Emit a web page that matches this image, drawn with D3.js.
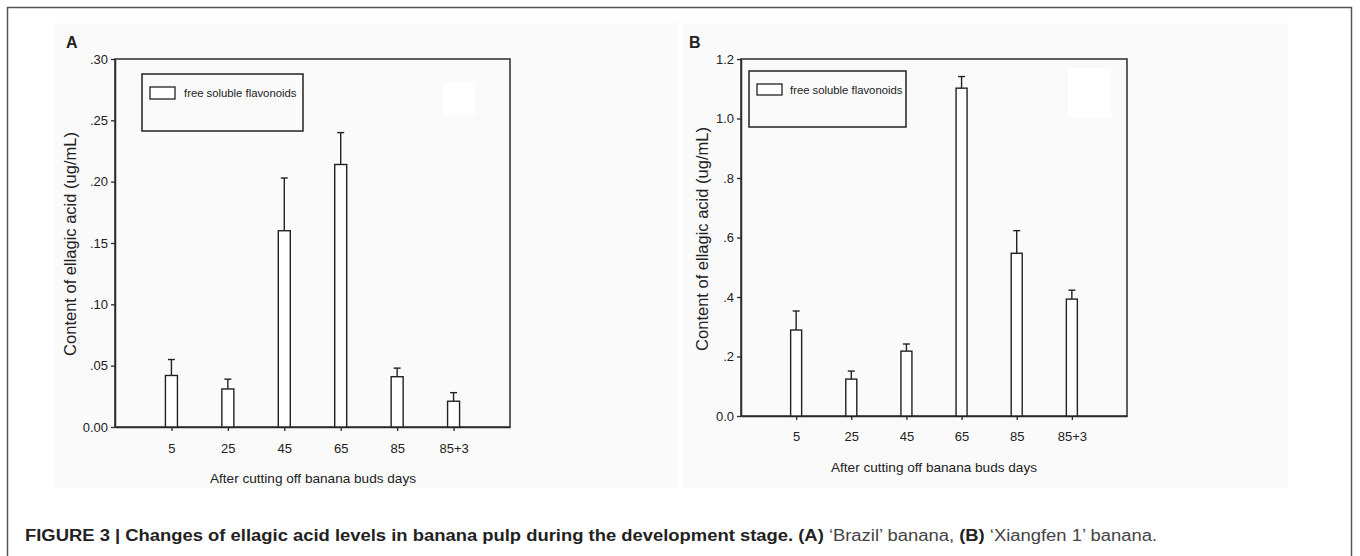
<!DOCTYPE html>
<html>
<head>
<meta charset="utf-8">
<script src="https://cdn.jsdelivr.net/npm/d3@7"></script>
<style>
  body { margin: 0; background: #fff; }
  svg { display: block; }
  text { font-family: "Liberation Sans", Arial, sans-serif; fill: #222; }
</style>
</head>
<body>
<svg id="figure" width="1360" height="556"></svg>
<script>
// days after cutting off the banana buds
const days = ["5", "25", "45", "65", "85", "85+3"];

// (A) 'Brazil' banana, ellagic acid (ug/mL)
const brazilMeans = [0.042, 0.031, 0.160, 0.214, 0.041, 0.021];
const brazilErrors = [0.013, 0.008, 0.043, 0.026, 0.007, 0.007];
const brazilTicks = [0, 0.05, 0.10, 0.15, 0.20, 0.25, 0.30];

// (B) 'Xiangfen 1' banana
const xiangfenMeans = [0.289, 0.124, 0.218, 1.102, 0.547, 0.393];
const xiangfenErrors = [0.064, 0.027, 0.024, 0.039, 0.076, 0.030];
const xiangfenTicks = [0, 0.2, 0.4, 0.6, 0.8, 1.0, 1.2];

const legendLabel = "free soluble flavonoids";
const xAxisTitle = "After cutting off banana buds days";
const yAxisTitle = "Content of ellagic acid (ug/mL)";

const axisColor = "#2b2b2b";

// SigmaPlot style labels: ".05" instead of "0.05", but keep the zero
const sigmaFormat = (digits) => (d) => {
  const s = d3.format(`.${digits}f`)(d);
  return d === 0 ? s : s.replace(/^0\./, ".");
};

const drawPanel = (svg, opts) => {
  const { plot } = opts;
  const g = svg.append("g");

  //panel background
  g.append("rect")
    .attr("x", opts.bg[0]).attr("y", opts.bg[1])
    .attr("width", opts.bg[2] - opts.bg[0]).attr("height", opts.bg[3] - opts.bg[1])
    .attr("fill", "#fafafa");
  //little white patch left in the scan
  g.append("rect")
    .attr("x", opts.patch[0]).attr("y", opts.patch[1])
    .attr("width", opts.patch[2] - opts.patch[0]).attr("height", opts.patch[3] - opts.patch[1])
    .attr("fill", "#ffffff");

  //panel letter
  g.append("text")
    .attr("x", opts.letterPos[0]).attr("y", opts.letterPos[1])
    .attr("font-size", 16).attr("font-weight", "bold").attr("fill", "#111")
    .text(opts.letter);

  //scales
  const xScale = d3.scalePoint().domain(days).range([plot.left, plot.right]).padding(1);
  const yScale = d3.scaleLinear().domain(d3.extent(opts.ticks)).range([plot.bottom, plot.top]);

  //frame (top and right sides)
  g.append("rect")
    .attr("x", plot.left).attr("y", plot.top)
    .attr("width", plot.right - plot.left).attr("height", plot.bottom - plot.top)
    .attr("fill", "none").attr("stroke", axisColor).attr("stroke-width", 1.5);

  //axes
  const yAxis = d3.axisLeft(yScale)
    .tickValues(opts.ticks)
    .tickFormat(opts.format)
    .tickSize(4).tickSizeOuter(0).tickPadding(3);
  const xAxis = d3.axisBottom(xScale)
    .tickSize(4).tickSizeOuter(0).tickPadding(opts.xTickPadding);

  const yG = g.append("g")
    .attr("transform", `translate(${plot.left},0)`)
    .call(yAxis);
  const xG = g.append("g")
    .attr("transform", `translate(0,${plot.bottom})`)
    .call(xAxis);
  [yG, xG].forEach((ax) => {
    ax.attr("font-family", null).attr("font-size", null);
    ax.select(".domain").attr("stroke", axisColor).attr("stroke-width", 1.5);
    ax.selectAll(".tick line").attr("stroke", axisColor).attr("stroke-width", 1.3);
    ax.selectAll(".tick text").attr("fill", "#2a2a2a").style("font-size", "13px");
  });

  //error bars (upper only)
  const rows = days.map((day, i) => ({ day, mean: opts.means[i], err: opts.errors[i] }));
  const errG = g.append("g").attr("stroke", "#222").attr("stroke-width", 1.4);
  errG.selectAll("line.stem")
    .data(rows).enter().append("line")
    .attr("class", "stem")
    .attr("x1", (d) => xScale(d.day)).attr("x2", (d) => xScale(d.day))
    .attr("y1", (d) => yScale(d.mean)).attr("y2", (d) => yScale(d.mean + d.err));
  errG.selectAll("line.cap")
    .data(rows).enter().append("line")
    .attr("class", "cap")
    .attr("x1", (d) => xScale(d.day) - 3.5).attr("x2", (d) => xScale(d.day) + 3.5)
    .attr("y1", (d) => yScale(d.mean + d.err)).attr("y2", (d) => yScale(d.mean + d.err));

  //bars
  g.append("g").selectAll("rect")
    .data(rows).enter().append("rect")
    .attr("x", (d) => xScale(d.day) - opts.barWidth / 2)
    .attr("y", (d) => yScale(d.mean))
    .attr("width", opts.barWidth)
    .attr("height", (d) => yScale(0) - yScale(d.mean))
    .attr("fill", "#fff")
    .attr("stroke", "#222")
    .attr("stroke-width", 1.4);

  //legend
  const lg = opts.legend;
  g.append("rect")
    .attr("x", lg.box[0]).attr("y", lg.box[1])
    .attr("width", lg.box[2] - lg.box[0]).attr("height", lg.box[3] - lg.box[1])
    .attr("fill", "none").attr("stroke", "#222").attr("stroke-width", 1.5);
  g.append("rect")
    .attr("x", lg.swatch[0]).attr("y", lg.swatch[1])
    .attr("width", lg.swatch[2] - lg.swatch[0]).attr("height", lg.swatch[3] - lg.swatch[1])
    .attr("fill", "#fff").attr("stroke", "#222").attr("stroke-width", 1.3);
  g.append("text")
    .attr("x", lg.text[0]).attr("y", lg.text[1])
    .attr("font-size", 11.3).attr("fill", "#2a2a2a")
    .text(legendLabel);

  //axis titles
  g.append("text")
    .attr("x", opts.xTitle[0]).attr("y", opts.xTitle[1])
    .attr("text-anchor", "middle").attr("font-size", 13.6).attr("fill", "#2a2a2a")
    .text(xAxisTitle);
  g.append("text")
    .attr("transform", `translate(${opts.yTitle[0]},${opts.yTitle[1]}) rotate(-90)`)
    .attr("text-anchor", "middle").attr("font-size", 16.5).attr("fill", "#2a2a2a")
    .text(yAxisTitle);
};

const svg = d3.select("#figure");

//outer figure frame
svg.append("rect")
  .attr("x", 7.5).attr("y", 7.5)
  .attr("width", 1344).attr("height", 560)
  .attr("fill", "none").attr("stroke", "#555").attr("stroke-width", 1.5);

drawPanel(svg, {
  letter: "A",
  means: brazilMeans,
  errors: brazilErrors,
  ticks: brazilTicks,
  format: sigmaFormat(2),
  bg: [55, 23, 678, 488],
  patch: [443, 82, 475, 115],
  letterPos: [66, 48],
  plot: { left: 115, top: 59, right: 510, bottom: 427 },
  xTickPadding: 13,
  barWidth: 12,
  legend: { box: [142, 74, 303, 131], swatch: [150, 87, 175, 99], text: [184, 97] },
  xTitle: [313, 483],
  yTitle: [76, 244],
});

drawPanel(svg, {
  letter: "B",
  means: xiangfenMeans,
  errors: xiangfenErrors,
  ticks: xiangfenTicks,
  format: sigmaFormat(1),
  bg: [683, 23, 1288, 488],
  patch: [1068, 68, 1111, 118],
  letterPos: [689, 48],
  plot: { left: 741, top: 59, right: 1127, bottom: 416 },
  xTickPadding: 12,
  barWidth: 11,
  legend: { box: [749, 71, 906, 127], swatch: [757, 84, 782, 95], text: [790, 94] },
  xTitle: [934, 472],
  yTitle: [708, 239],
});

//caption, stretched to the width it has in the journal layout
const caption = svg.append("text")
  .attr("x", 25).attr("y", 541)
  .attr("font-size", 16)
  .attr("textLength", 1132)
  .attr("lengthAdjust", "spacingAndGlyphs");
caption.append("tspan").attr("font-weight", "bold").attr("fill", "#222")
  .text("FIGURE 3 | Changes of ellagic acid levels in banana pulp during the development stage. (A)");
caption.append("tspan").attr("fill", "#444").text(" \u2018Brazil\u2019 banana, ");
caption.append("tspan").attr("font-weight", "bold").attr("fill", "#222").text("(B)");
caption.append("tspan").attr("fill", "#444").text(" \u2018Xiangfen 1\u2019 banana.");
</script>
</body>
</html>
